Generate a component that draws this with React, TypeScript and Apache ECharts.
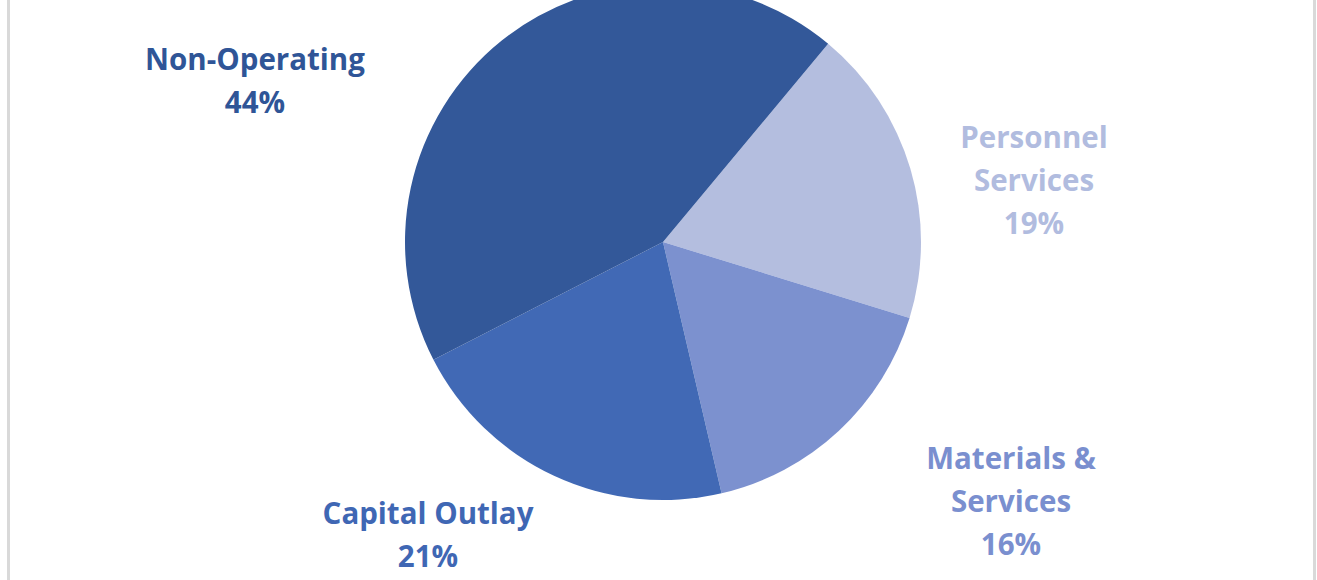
import React, { useEffect, useRef } from "react";
import * as echarts from "echarts";

const categories = ["Personnel\nServices", "Materials &\nServices", "Capital Outlay", "Non-Operating"];
const values = [18.7, 16.6, 21.1, 43.6];
const percentLabels = ["19%", "16%", "21%", "44%"];
const colors = ["#b4bedf", "#7c91cf", "#4169b5", "#335899"];
const labelColors = ["#b1bcdf", "#7a8fcf", "#3f67b4", "#2f5597"];
const labelCenters = [
  [1034, 179],
  [1011, 500],
  [428, 534],
  [255, 80],
];

export default function App() {
  const ref = useRef<HTMLDivElement>(null);
  useEffect(() => {
    if (!ref.current) return;
    const chart = echarts.init(ref.current, null, { renderer: "svg" });
    chart.setOption({
      animation: false,
      backgroundColor: "#ffffff",
      graphic: [
        { type: "rect", shape: { x: 7, y: 0, width: 3, height: 580 }, style: { fill: "#d9d9d9" } },
        { type: "rect", shape: { x: 1313, y: 0, width: 3, height: 580 }, style: { fill: "#d9d9d9" } },
      ],
      series: [
        {
          type: "pie",
          center: [663, 242],
          radius: 258,
          startAngle: 50.2,
          clockwise: true,
          silent: true,
          itemStyle: { borderWidth: 0 },
          labelLine: { show: false },
          label: {
            show: true,
            position: "outside",
            fontFamily: "Open Sans",
            fontWeight: "bold",
            fontSize: 29.5,
            lineHeight: 43,
            align: "center",
            formatter: (p: any) => `${p.name}\n${percentLabels[p.dataIndex]}`,
          },
          labelLayout: (p: any) => ({
            x: labelCenters[p.dataIndex][0],
            y: labelCenters[p.dataIndex][1],
            align: "center",
            verticalAlign: "middle",
          }),
          data: categories.map((c, i) => ({
            name: c,
            value: values[i],
            itemStyle: { color: colors[i] },
            label: { color: labelColors[i] },
          })),
        },
      ],
    });
    return () => chart.dispose();
  }, []);
  return (
    <div
      ref={ref}
      style={{ position: "fixed", left: 0, top: 0, width: 1317, height: 580 }}
    />
  );
}
